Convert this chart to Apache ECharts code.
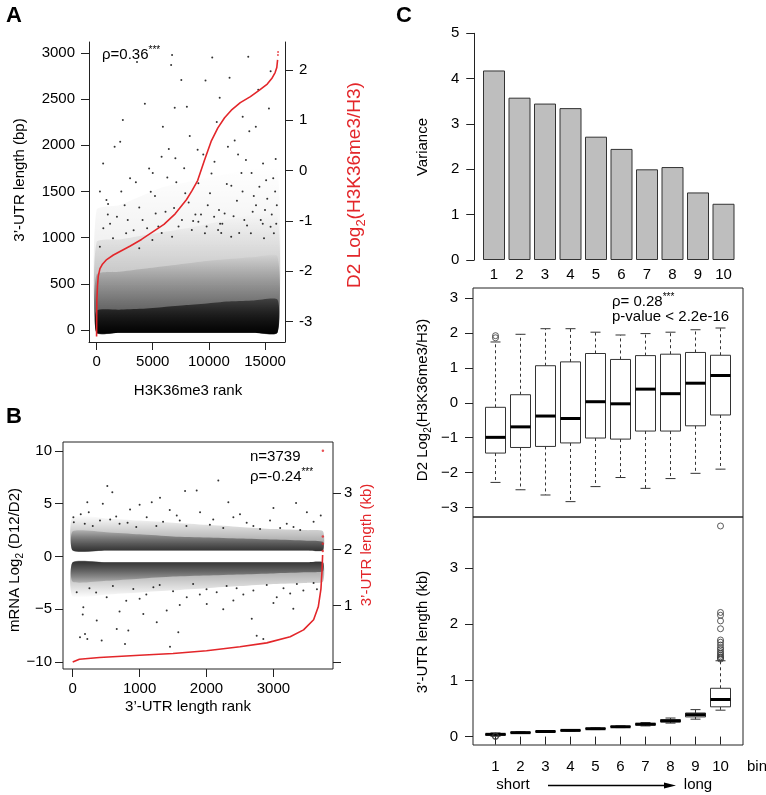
<!DOCTYPE html>
<html><head><meta charset="utf-8">
<script src="https://cdn.jsdelivr.net/npm/echarts@6/dist/echarts.min.js"></script>
<style>html,body{margin:0;padding:0;background:#fff}#c{width:766px;height:795px}</style>
</head><body><div id="c"></div><script>
// ---------- Panel A data ----------
const aCurveRank = [0, 10, 30, 80, 150, 300, 500, 900, 1500, 2000, 3000, 4000, 5000, 6000, 7000, 7500, 8000, 8500, 9000, 9600, 10200, 10800, 11400, 12000, 12800, 13700, 14500, 15200, 15600, 15900, 16050, 16120];
const aCurveD2 = [-3.3, -2.9, -2.55, -2.3, -2.1, -1.95, -1.87, -1.77, -1.68, -1.62, -1.5, -1.37, -1.22, -1.07, -0.86, -0.72, -0.58, -0.4, -0.2, 0.2, 0.58, 0.85, 1.05, 1.2, 1.35, 1.47, 1.6, 1.72, 1.83, 1.95, 2.05, 2.2];
const aRedDots = [[16150, 2.3], [16160, 2.36]];
const aDots = [
  [6725,2976],[6637,2868],[13509,2958],[7544,2705],[11842,2730],[6959,2406],[8041,2417],[10965,2514],
  [2339,2272],[5906,2200],[13012,2308],[14181,2200],[15350,2398],[1608,1984],[2105,2038],[6433,1959],
  [585,1803],[5790,1876],[7018,1858],[11696,1984],[13304,1840],[14825,1803],[15731,1641],[2982,1641],
  [4678,1749],[9064,1587],[10234,1695],[877,1407],[1023,1363],[1813,1226],[4825,1497],[7895,1479],
  [3801,1327],[2778,1190],[4094,1190],[5263,1262],[6140,1280],[7602,1190],[9064,1172],[10468,1226],
  [11404,1262],[13158,1190],[14620,1190],[15497,1118],[292,902],[1462,992],[2632,1046],[3801,884],
  [4971,974],[6725,1010],[8480,1082],[9649,1046],[10819,1082],[11988,1010],[13743,1046],[14912,992],
  [15790,1046],[12500,1400],[14000,1450],[15000,1300],[9900,1350],[8800,1250],[12000,1560],[15900,1500],
  [3300,1080],[5500,1120],[11000,1150],[13900,1280],[15100,1620],[9500,1900],[12900,1700],[4300,2450],
  [1200,1150],[2500,1350],[3500,1600],[4500,1100],[5200,1450],[5800,1050],[6300,1650],[6900,1320],
  [7300,1120],[7800,1750],[8200,1380],[8600,1180],[9000,1950],[9300,1250],[9800,1120],[10100,1480],
  [10500,1820],[10900,1300],[11200,1150],[11600,1580],[12200,1230],[12600,1900],[13000,1500],[13400,1130],
  [13800,1700],[14200,1350],[14500,1550],[14800,1150],[15200,1420],[15600,1250],[15950,1850],[16000,1150],
  [8300,2100],[10700,2250],[12300,2050],[14400,2600],[9700,2700],[3600,2900],[15500,2800],[11100,1050],
  [7100,1600],[5000,1700],[2200,1500],[1000,1250],[600,1100],[300,1500],[16050,1350],[13600,2150],
  [10300,2950],[12700,1050]
];
const aBandRank = [0, 2000, 4000, 6000, 8000, 10000, 12000, 14000, 16100];
const aCoreTop  = [210, 220, 230, 250, 270, 290, 310, 320, 330];
const aMidTop   = [600, 630, 660, 690, 720, 750, 770, 790, 800];
const aLightTop = [950, 980, 1020, 1060, 1100, 1150, 1200, 1250, 1250];
const aFaintTop = [1300, 1350, 1450, 1550, 1600, 1650, 1700, 1750, 1750];
const aBandBottom = -30;
const aXTicks = [0, 5000, 10000, 15000];
const aYTicks = [0, 500, 1000, 1500, 2000, 2500, 3000];
const aY2Ticks = [-3, -2, -1, 0, 1, 2];

// ---------- Panel B data ----------
const bCurveRank = [0, 100, 400, 1000, 1500, 2000, 2500, 2900, 3250, 3450, 3600, 3670, 3710, 3725, 3735];
const bCurveKb   = [0.0, 0.05, 0.08, 0.12, 0.15, 0.2, 0.27, 0.34, 0.45, 0.57, 0.75, 0.98, 1.3, 1.6, 1.9];
const bRedDots = [[3737, 1.97], [3738, 2.1], [3738, 2.23], [3739, 3.75]];
const bDots = [
  [517,6.67],[592,6.1],[218,5.15],[1181,5.15],[1305,5.57],[1679,6.2],[1853,6.26],[2176,7.2],[2326,5.15],[3338,5.06],
  [3707,3.89],[857,4.46],[10,3.73],[17,3.25],[240,4.2],[408,3.42],[1106,3.73],[1555,3.89],[1903,4.2],[2401,3.73],
  [2949,3.42],[3199,3.1],[300,2.9],[700,3.1],[950,2.8],[1350,3.3],[1700,2.9],[2050,3.0],[2250,2.7],[2600,3.2],
  [2800,2.6],[3100,2.7],[3400,2.5],[3600,3.3],[120,4.0],[650,3.8],[1450,4.4],[2500,4.0],[3000,4.6],[450,5.0],
  [1000,4.9],[3500,4.2],[180,3.1],[560,3.5],[820,3.2],[1250,2.9],[1600,3.4],[2100,3.5],[2700,2.9],[3300,2.8],
  [159,-4.81],[109,-7.65],[184,-7.34],[218,-7.81],[433,-7.97],[658,-6.86],[831,-7.02],[782,-8.28],[1454,-8.54],[1578,-7.18],
  [1256,-6.23],[2676,-5.91],[2750,-7.5],[2849,-7.81],[3297,-4.96],[359,-6.07],[1055,-5.44],[1405,-5.12],[2003,-4.49],[2401,-4.17],
  [60,-3.39],[508,-3.86],[906,-3.07],[1206,-2.91],[1704,-3.86],[2152,-3.39],[2700,-3.23],[3049,-3.86],[3447,-3.23],
  [250,-3.0],[600,-2.8],[800,-4.2],[1100,-3.6],[1300,-2.7],[1500,-3.3],[1800,-2.6],[2000,-3.1],[2300,-2.8],[2550,-3.6],
  [2900,-2.7],[3150,-3.0],[3350,-2.6],[3600,-2.5],[150,-5.5],[700,-5.2],[1600,-4.6],[2250,-5.0],[3000,-4.4],[3650,-3.1],
  [350,-3.4],[1000,-4.0],[1900,-3.6],[2450,-3.0],[3250,-3.5]
];
const bBandRank   = [0, 500, 1000, 1500, 2000, 2500, 3000, 3500, 3740];
const bUpCoreTop  = [2.4, 2.3, 2.1, 1.9, 1.8, 1.7, 1.6, 1.5, 1.4];
const bUpLightTop = [3.8, 3.6, 3.4, 3.2, 3.0, 2.8, 2.6, 2.5, 2.4];
const bUpEdge = 0.58;
const bLoCoreBot  = [-2.4, -2.3, -2.1, -1.9, -1.8, -1.7, -1.6, -1.5, -1.4];
const bLoLightBot = [-3.8, -3.6, -3.4, -3.2, -3.0, -2.8, -2.6, -2.5, -2.4];
const bLoEdge = -0.55;
const bXTicks = [0, 1000, 2000, 3000];
const bYTicks = [-10, -5, 0, 5, 10];
const bY2Ticks = [0, 1, 2, 3];
const bY2Labels = [1, 2, 3];

// ---------- Panel C data ----------
const bins = ['1','2','3','4','5','6','7','8','9','10'];
const variance = [4.18, 3.58, 3.45, 3.35, 2.72, 2.45, 2.0, 2.05, 1.49, 1.24];
const d2Low  = [-2.28, -2.49, -2.64, -2.83, -2.40, -2.14, -2.45, -2.17, -2.02, -1.90];
const d2Q1   = [-1.44, -1.28, -1.25, -1.15, -1.01, -1.04, -0.81, -0.81, -0.66, -0.35];
const d2Med  = [-0.99, -0.69, -0.38, -0.45, 0.03, -0.03, 0.39, 0.26, 0.56, 0.78];
const d2Q3   = [-0.13, 0.23, 1.06, 1.17, 1.41, 1.24, 1.35, 1.39, 1.44, 1.36];
const d2High = [1.74, 1.96, 2.12, 2.12, 2.02, 1.94, 1.98, 2.02, 2.09, 2.14];
const d2Out  = [[0, 1.86], [0, 1.92]];
const utrLow  = [0.005, 0.055, 0.08, 0.10, 0.125, 0.16, 0.19, 0.24, 0.31, 0.47];
const utrQ1   = [0.025, 0.065, 0.088, 0.107, 0.135, 0.17, 0.205, 0.26, 0.35, 0.53];
const utrMed  = [0.04, 0.07, 0.09, 0.11, 0.14, 0.175, 0.22, 0.28, 0.39, 0.66];
const utrQ3   = [0.05, 0.075, 0.095, 0.115, 0.145, 0.18, 0.235, 0.30, 0.42, 0.86];
const utrHigh = [0.065, 0.085, 0.10, 0.122, 0.155, 0.19, 0.25, 0.33, 0.48, 1.35];
const utrOut  = [[0, 0.0], [0, 0.01], [9, 1.38], [9, 1.40], [9, 1.42], [9, 1.45], [9, 1.48], [9, 1.51], [9, 1.55],
                 [9, 1.58], [9, 1.63], [9, 1.68], [9, 1.72], [9, 1.92], [9, 2.06], [9, 2.16], [9, 2.21], [9, 3.75]];
const d2Ticks = [-3, -2, -1, 0, 1, 2, 3];
const utrTicks = [0, 1, 2, 3];

// ---------- styling ----------
const FONT = '"Liberation Sans", Arial, Helvetica, sans-serif';
const INK = '#222';
const RED = '#e3262a';
const plain = v => String(v);
const minus = v => (v < 0 ? '\u2212' + (-v) : String(v));
const at = (v, i) => (Array.isArray(v) ? v[i] : v);

function valAxis(o) {
  const base = {
    type: 'value', splitLine: {show: false},
    axisLine: {show: true, onZero: false, lineStyle: {color: INK, width: 1}},
    axisTick: {show: true, inside: false, length: 8, lineStyle: {color: INK, width: 1}},
    axisLabel: {color: '#000', fontFamily: FONT, fontSize: 15, margin: 14, formatter: plain}
  };
  const r = Object.assign({}, base, o);
  r.axisLine = Object.assign({}, base.axisLine, o.axisLine || {});
  r.axisTick = Object.assign({}, base.axisTick, o.axisTick || {});
  r.axisLabel = Object.assign({}, base.axisLabel, o.axisLabel || {});
  return r;
}

// gradient-filled density band between lo and hi (aTop = alpha at top of band, aBot = alpha at bottom)
function band(xi, yi, xs, lo, hi, aTop, aBot) {
  return {
    type: 'custom', xAxisIndex: xi, yAxisIndex: yi, silent: true, z: 1,
    data: [[xs[0], at(hi, 0)]],
    renderItem(params, api) {
      const pts = [];
      for (let i = 0; i < xs.length; i++) pts.push(api.coord([xs[i], at(hi, i)]));
      for (let i = xs.length - 1; i >= 0; i--) pts.push(api.coord([xs[i], at(lo, i)]));
      const fill = new echarts.graphic.LinearGradient(0, 0, 0, 1, [
        {offset: 0, color: 'rgba(0,0,0,' + aTop + ')'},
        {offset: 1, color: 'rgba(0,0,0,' + aBot + ')'}
      ]);
      return {type: 'polygon', shape: {points: pts, smooth: 0.2}, style: {fill}};
    }
  };
}

function boxSeries(xi, yi, lo, q1, med, q3, hi) {
  const data = lo.map((v, i) => [i, lo[i], q1[i], med[i], q3[i], hi[i]]);
  return {
    type: 'custom', xAxisIndex: xi, yAxisIndex: yi, silent: true, z: 5,
    encode: {x: 0, y: [1, 2, 3, 4, 5]}, data,
    renderItem(params, api) {
      const i = api.value(0);
      const bw = api.size([1, 0])[0] * 0.8;
      const cx = api.coord([i, api.value(3)])[0];
      const Y = k => api.coord([i, api.value(k)])[1];
      const yLo = Y(1), yQ1 = Y(2), yMed = Y(3), yQ3 = Y(4), yHi = Y(5);
      const cap = bw * 0.25;
      const ln = (x1, y1, x2, y2, extra) => ({type: 'line', shape: {x1, y1, x2, y2},
        style: Object.assign({stroke: '#333', lineWidth: 1}, extra || {})});
      return {type: 'group', children: [
        ln(cx, yQ3, cx, yHi, {lineDash: [3, 3]}),
        ln(cx, yQ1, cx, yLo, {lineDash: [3, 3]}),
        ln(cx - cap, yHi, cx + cap, yHi),
        ln(cx - cap, yLo, cx + cap, yLo),
        {type: 'rect', shape: {x: cx - bw / 2, y: yQ3, width: bw, height: Math.max(yQ1 - yQ3, 0.5)},
         style: {fill: '#fff', stroke: '#333', lineWidth: 1}},
        ln(cx - bw / 2, yMed, cx + bw / 2, yMed, {stroke: '#000', lineWidth: 3})
      ]};
    }
  };
}

function rich(color, size) {
  const sub = Math.round(size * 0.67);
  return {
    n: {fontFamily: FONT, fontSize: size, lineHeight: Math.round(size * 1.33), verticalAlign: 'middle', fill: color},
    s: {fontFamily: FONT, fontSize: sub, lineHeight: sub, verticalAlign: 'bottom', fill: color},
    p: {fontFamily: FONT, fontSize: sub, lineHeight: sub, verticalAlign: 'top', fill: color}
  };
}
function txt(x, y, text, opt) {
  opt = opt || {};
  const color = opt.color || '#000';
  const size = opt.size || 15;
  return {type: 'text', x, y, rotation: opt.rot ? Math.PI / 2 : 0, z: 200,
    style: {text, fill: color, font: (opt.bold ? 'bold ' : '') + size + 'px ' + FONT,
      align: opt.align || 'center', verticalAlign: 'middle', rich: rich(color, size)}};
}

const chart = echarts.init(document.getElementById('c'), null, {renderer: 'canvas'});
chart.setOption({
  animation: false,
  backgroundColor: '#fff',
  grid: [
    {left: 89, top: 42, width: 196, height: 300},
    {left: 63, top: 442, width: 270, height: 227, show: true, borderColor: INK, borderWidth: 1, backgroundColor: 'transparent'},
    {left: 481.25, top: 33.3, width: 255, height: 226.7},
    {left: 483, top: 288, width: 250, height: 229},
    {left: 483, top: 517, width: 250, height: 228}
  ],
  xAxis: [
    valAxis({gridIndex: 0, min: -675, max: 16780,
      axisTick: {customValues: aXTicks}, axisLabel: {customValues: aXTicks, margin: 12}}),
    valAxis({gridIndex: 1, min: -145, max: 3890, axisLine: {show: false},
      axisTick: {customValues: bXTicks}, axisLabel: {customValues: bXTicks, margin: 12}}),
    {type: 'category', gridIndex: 2, data: bins, axisLine: {show: false}, axisTick: {show: false},
      axisLabel: {color: '#000', fontFamily: FONT, fontSize: 15, margin: 7}},
    {type: 'category', gridIndex: 3, data: bins, axisLine: {show: false}, axisTick: {show: false}, axisLabel: {show: false}},
    {type: 'category', gridIndex: 4, data: bins, axisLine: {show: false},
      axisTick: {show: true, alignWithLabel: true, length: 8, lineStyle: {color: INK}},
      axisLabel: {color: '#000', fontFamily: FONT, fontSize: 15, margin: 14}}
  ],
  yAxis: [
    valAxis({gridIndex: 0, min: -130, max: 3117,
      axisTick: {customValues: aYTicks}, axisLabel: {customValues: aYTicks, margin: 14}}),
    valAxis({gridIndex: 0, position: 'right', min: -3.41, max: 2.557,
      axisTick: {customValues: aY2Ticks}, axisLabel: {customValues: aY2Ticks, margin: 14}}),
    valAxis({gridIndex: 1, min: -10.66, max: 10.85, axisLine: {show: false},
      axisTick: {customValues: bYTicks}, axisLabel: {customValues: bYTicks, margin: 11, formatter: minus}}),
    valAxis({gridIndex: 1, position: 'right', min: -0.124, max: 3.906, axisLine: {show: false},
      axisTick: {customValues: bY2Ticks}, axisLabel: {customValues: bY2Labels, margin: 11}}),
    valAxis({gridIndex: 2, min: 0, max: 5, interval: 1, offset: 7, axisLabel: {margin: 15}}),
    valAxis({gridIndex: 3, min: -3.27, max: 3.285, offset: 10, axisLine: {show: false},
      axisTick: {customValues: d2Ticks}, axisLabel: {customValues: d2Ticks, margin: 15, formatter: minus}}),
    valAxis({gridIndex: 4, min: -0.15, max: 3.91, offset: 10, axisLine: {show: false},
      axisTick: {customValues: utrTicks}, axisLabel: {customValues: utrTicks, margin: 15}})
  ],
  series: [
    // Panel A density bands + points + curve
    band(0, 0, aBandRank, aBandBottom, aFaintTop, 0, 0.12),
    band(0, 0, aBandRank, aBandBottom, aLightTop, 0, 0.3),
    band(0, 0, aBandRank, aBandBottom, aMidTop, 0.02, 0.6),
    band(0, 0, aBandRank, aBandBottom, aCoreTop, 0.45, 0.97),
    {type: 'scatter', xAxisIndex: 0, yAxisIndex: 0, data: aDots, symbolSize: 2, silent: true, z: 3,
      itemStyle: {color: '#000'}},
    {type: 'line', xAxisIndex: 0, yAxisIndex: 1, data: aCurveRank.map((r, i) => [r, aCurveD2[i]]),
      showSymbol: false, smooth: false, silent: true, z: 4,
      lineStyle: {color: RED, width: 1.6}},
    {type: 'scatter', xAxisIndex: 0, yAxisIndex: 1, data: aRedDots, symbolSize: 2, silent: true, z: 4,
      itemStyle: {color: RED}},
    // Panel B
    band(1, 2, bBandRank, bUpEdge, bUpLightTop, 0, 0.45),
    band(1, 2, bBandRank, bUpEdge, bUpCoreTop, 0.15, 0.65),
    band(1, 2, bBandRank, bLoLightBot, bLoEdge, 0.45, 0),
    band(1, 2, bBandRank, bLoCoreBot, bLoEdge, 0.65, 0.15),
    {type: 'scatter', xAxisIndex: 1, yAxisIndex: 2, data: bDots, symbolSize: 2, silent: true, z: 3,
      itemStyle: {color: '#000'}},
    {type: 'line', xAxisIndex: 1, yAxisIndex: 3, data: bCurveRank.map((r, i) => [r, bCurveKb[i]]),
      showSymbol: false, smooth: false, silent: true, z: 4,
      lineStyle: {color: RED, width: 1.6}},
    {type: 'scatter', xAxisIndex: 1, yAxisIndex: 3, data: bRedDots, symbolSize: 2.5, silent: true, z: 4,
      itemStyle: {color: RED}},
    // Panel C top bars
    {type: 'bar', xAxisIndex: 2, yAxisIndex: 4, data: variance, barWidth: 22, silent: true,
      itemStyle: {color: '#bebebe', borderColor: '#333', borderWidth: 1}},
    // Panel C boxplots
    boxSeries(3, 5, d2Low, d2Q1, d2Med, d2Q3, d2High),
    {type: 'scatter', xAxisIndex: 3, yAxisIndex: 5, data: d2Out, symbol: 'circle', symbolSize: 6, silent: true, z: 6,
      itemStyle: {color: 'rgba(0,0,0,0)', borderColor: '#333', borderWidth: 1}},
    boxSeries(4, 6, utrLow, utrQ1, utrMed, utrQ3, utrHigh),
    {type: 'scatter', xAxisIndex: 4, yAxisIndex: 6, data: utrOut, symbol: 'circle', symbolSize: 6, silent: true, z: 6,
      itemStyle: {color: 'rgba(0,0,0,0)', borderColor: '#333', borderWidth: 1}}
  ],
  graphic: [
    {type: 'rect', shape: {x: 473, y: 288, width: 270, height: 229}, z: 150, silent: true,
      style: {fill: 'none', stroke: INK, lineWidth: 1}},
    {type: 'rect', shape: {x: 473, y: 517, width: 270, height: 228}, z: 150, silent: true,
      style: {fill: 'none', stroke: INK, lineWidth: 1}},
    {type: 'line', shape: {x1: 548, y1: 785.5, x2: 668, y2: 785.5}, z: 150,
      style: {stroke: '#000', lineWidth: 1.5}},
    {type: 'polygon', shape: {points: [[664, 782.5], [676, 785.5], [664, 788.5]]}, z: 150,
      style: {fill: '#000'}},
    // panel letters
    txt(14, 16, 'A', {bold: true, size: 22}),
    txt(14, 417, 'B', {bold: true, size: 22}),
    txt(404, 16, 'C', {bold: true, size: 22}),
    // Panel A texts
    txt(102, 55, '{n|\u03c1=0.36}{p|***}', {align: 'left'}),
    txt(188, 391, 'H3K36me3 rank'),
    txt(20, 180, '3\u2019-UTR length (bp)', {rot: true}),
    txt(355, 185, '{n|D2 Log}{s|2}{n|(H3K36me3/H3)}', {rot: true, color: RED, size: 19}),
    // Panel B texts
    txt(250, 457, 'n=3739', {align: 'left'}),
    txt(250, 477, '{n|\u03c1=-0.24}{p|***}', {align: 'left'}),
    txt(188, 707, '3\u2019-UTR length rank'),
    txt(15, 560, '{n|mRNA Log}{s|2}{n| (D12/D2)}', {rot: true}),
    txt(367, 545, '3\u2019-UTR length (kb)', {rot: true, color: RED}),
    // Panel C texts
    txt(423, 147, 'Variance', {rot: true}),
    txt(423, 400, '{n|D2 Log}{s|2}{n|(H3K36me3/H3)}', {rot: true}),
    txt(423, 632, '3\u2019-UTR length (kb)', {rot: true}),
    txt(612, 302, '{n|\u03c1= 0.28}{p|***}', {align: 'left'}),
    txt(612, 317, 'p-value < 2.2e-16', {align: 'left'}),
    txt(747, 767, 'bin', {align: 'left'}),
    txt(513, 785, 'short'),
    txt(698, 785, 'long')
  ]
});
</script></body></html>
